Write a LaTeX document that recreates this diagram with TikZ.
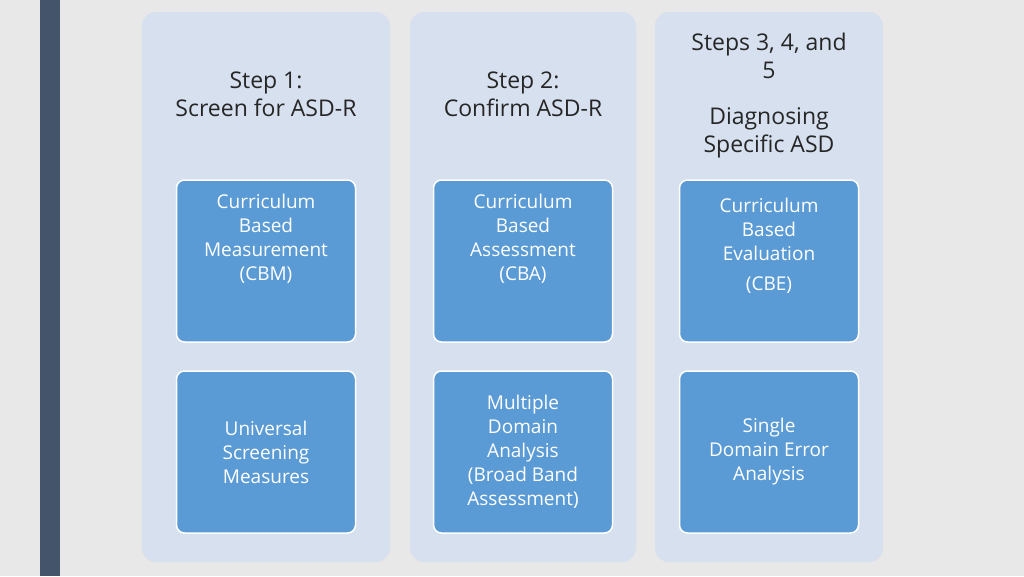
\documentclass[tikz,border=0pt]{standalone}
\usepackage{fontspec}
\setmainfont{Open Sans}
\begin{document}
\begin{tikzpicture}[x=1pt,y=-1pt,
 col/.style={fill=colblue,rounded corners=14pt,draw=none},
 box/.style={fill=boxblue,draw=white,line width=1.5pt,rounded corners=8pt,minimum width=179pt,minimum height=162pt,text=white,align=center,font=\fontsize{19}{24}\selectfont,inner sep=0pt},
 head/.style={align=center,text=black!85,font=\fontsize{23}{28}\selectfont}]
\definecolor{colblue}{HTML}{D6E0EE}
\definecolor{boxblue}{HTML}{5B9BD5}
\definecolor{bar}{HTML}{44546A}
\fill[fill={rgb,255:red,232;green,232;blue,232}] (0,0) rectangle (1024,576);
\useasboundingbox (0,0) rectangle (1024,576);
\fill[bar] (40,0) rectangle (60,576);
\fill[col] (142,12) rectangle (390,562);
\fill[col] (410,12) rectangle (636,562);
\fill[col] (655,12) rectangle (883,562);
\node[head] (h1) at (266,94) {Step 1:\\Screen for ASD-R};
\node[head] (h2) at (523,94) {Step 2:\\Confirm ASD-R};
\node[head] (h3a) at (769,56) {Steps 3, 4, and\\5};
\node[head] (h3b) at (769,133) {Diagnosing\\Specific ASD};
\node[box] (b11) at (266,261) {Curriculum\\Based\\Measurement\\(CBM)\\[1.2em]};
\node[box] (b21) at (523,261) {Curriculum\\Based\\Assessment\\(CBA)\\[1.2em]};
\node[box] (b31) at (769,261) {Curriculum\\Based\\Evaluation\\[0.3em](CBE)\\[0.5em]};
\node[box] (b12) at (266,452) {Universal\\Screening\\Measures};
\node[box] (b22) at (523,452) {Multiple\\Domain\\Analysis\\(Broad Band\\Assessment)};
\node[box] (b32) at (769,452) {Single\\Domain Error\\Analysis};
\end{tikzpicture}
\end{document}
